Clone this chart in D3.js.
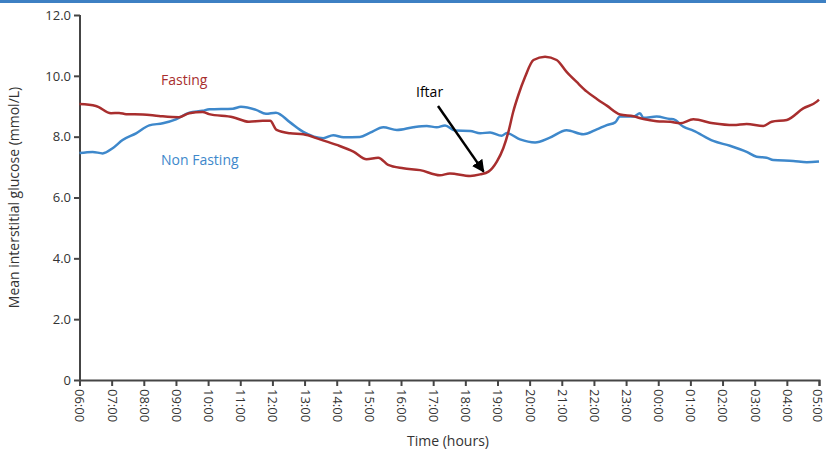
<!DOCTYPE html>
<html>
<head>
<meta charset="utf-8">
<script src="https://cdn.jsdelivr.net/npm/d3@7"></script>
<style>
  body { margin: 0; background: #fff; }
  svg { display: block; font-family: "Open Sans", sans-serif; }
</style>
</head>
<body>
<svg id="chart"></svg>
<script>
// hours after 06:00 and mean glucose (mmol/L)
const fastingHours = [0, 0.51, 0.98, 1.23, 1.45, 1.97, 2.47, 3.09, 3.41, 3.83, 4.03, 4.77, 5.27, 5.70, 5.93,
  6.13, 6.55, 6.96, 7.48, 8.00, 8.52, 8.93, 9.29, 9.60, 10.07, 10.59, 11.21, 11.52, 12.15, 12.46, 12.72,
  12.98, 13.18, 13.34, 13.49, 13.65, 13.86, 14.12, 14.48, 14.84, 15.15, 15.47, 15.78, 16.09, 16.40, 16.81,
  17.23, 17.54, 17.95, 18.37, 18.68, 19.09, 19.71, 20.34, 20.75, 21.27, 21.53, 22.00, 22.51, 22.93, 23];
const fastingGlucose = [9.07, 9.01, 8.77, 8.78, 8.74, 8.73, 8.68, 8.64, 8.77, 8.81, 8.74, 8.64, 8.49, 8.52, 8.52,
  8.22, 8.11, 8.08, 7.91, 7.73, 7.51, 7.26, 7.31, 7.07, 6.96, 6.90, 6.73, 6.79, 6.71, 6.76, 6.85,
  7.18, 7.62, 8.16, 8.82, 9.37, 9.97, 10.52, 10.63, 10.52, 10.13, 9.79, 9.48, 9.24, 9.02, 8.73,
  8.67, 8.58, 8.51, 8.49, 8.44, 8.57, 8.44, 8.38, 8.42, 8.35, 8.49, 8.55, 8.93, 9.15, 9.22];

const nonFastingHours = [0, 0.41, 0.72, 1.03, 1.34, 1.76, 2.17, 2.59, 3.00, 3.42, 3.83, 4.04, 4.77, 5.02, 5.49,
  5.80, 6.11, 6.55, 6.96, 7.58, 7.89, 8.21, 8.72, 9.04, 9.45, 9.87, 10.38, 10.80, 11.11, 11.37, 11.68,
  12.15, 12.46, 12.77, 13.13, 13.29, 13.70, 14.17, 14.63, 15.15, 15.67, 16.09, 16.40, 16.66, 16.81, 17.23,
  17.43, 17.54, 17.95, 18.37, 18.47, 18.78, 19.09, 19.71, 20.23, 20.75, 21.06, 21.37, 21.58, 22.20, 22.62, 23];
const nonFastingGlucose = [7.46, 7.50, 7.45, 7.62, 7.89, 8.11, 8.37, 8.44, 8.57, 8.79, 8.85, 8.90, 8.92, 8.98, 8.88,
  8.75, 8.79, 8.47, 8.16, 7.95, 8.05, 7.98, 7.99, 8.13, 8.31, 8.22, 8.31, 8.35, 8.31, 8.37, 8.20,
  8.19, 8.11, 8.14, 8.03, 8.12, 7.91, 7.81, 7.97, 8.21, 8.08, 8.24, 8.38, 8.47, 8.66, 8.66,
  8.77, 8.62, 8.66, 8.58, 8.57, 8.33, 8.20, 7.86, 7.70, 7.50, 7.34, 7.31, 7.23, 7.20, 7.16, 7.18];

const timeTicks = d3.range(0, 24);          // 06:00 .. 05:00
const glucoseTicks = [0, 2, 4, 6, 8, 10, 12];
const iftarHour = 12.6;

const W = 826, H = 451;
const margin = { top: 15, right: 7, bottom: 71, left: 80 };
const red = "#a82e2e", blue = "#3e88cb", axisColor = "#454545";

const svg = d3.select("#chart").attr("width", W).attr("height", H);

// thin blue band at the very top
svg.append("rect").attr("x", 0).attr("y", 0).attr("width", W).attr("height", 3).attr("fill", "#3d80c3");

const x = d3.scaleLinear().domain([0, 23]).range([margin.left - 0.5, W - margin.right]);
const y = d3.scaleLinear().domain([0, 12]).range([H - margin.bottom, margin.top]);

const g = svg.append("g");

// y axis
const yAxis = g.append("g")
  .attr("transform", `translate(${margin.left},0)`)
  .call(d3.axisLeft(y).tickValues(glucoseTicks).tickSize(6).tickPadding(3)
    .tickFormat(d => d === 0 ? "0" : d3.format(".1f")(d)));
yAxis.select(".domain").attr("d", `M0,${y(12)}V${y(0)}`);

// x axis
const xAxis = g.append("g")
  .attr("transform", `translate(0,${y(0)})`)
  .call(d3.axisBottom(x).tickValues(timeTicks).tickSize(6)
    .tickFormat(h => String((6 + h) % 24).padStart(2, "0") + ":00"));

[yAxis, xAxis].forEach(ax => {
  ax.select(".domain").attr("stroke", axisColor).attr("stroke-width", 2);
  ax.selectAll(".tick line").attr("stroke", axisColor).attr("stroke-width", 2);
  ax.selectAll(".tick text").attr("fill", "#333").style("font-size", "13px")
    .style("font-family", "'Open Sans', sans-serif");
});

xAxis.selectAll(".tick text")
  .attr("transform", "rotate(90)")
  .attr("x", 9).attr("y", 0)
  .attr("dy", (d, i) => i === timeTicks.length - 1 ? "0.5em" : "0.35em")
  .style("text-anchor", "start");

// axis titles
svg.append("text")
  .attr("transform", `translate(19,${(y(0) + y(12)) / 2}) rotate(-90)`)
  .attr("text-anchor", "middle").attr("fill", "#333").style("font-size", "14px")
  .text("Mean interstitial glucose (mmol/L)");
svg.append("text")
  .attr("x", 448).attr("y", 446)
  .attr("text-anchor", "middle").attr("fill", "#333").style("font-size", "14px")
  .text("Time (hours)");

// series
const line = d3.line().x(d => x(d[0])).y(d => y(d[1])).curve(d3.curveMonotoneX);
const series = [
  { hours: nonFastingHours, vals: nonFastingGlucose, color: blue },
  { hours: fastingHours, vals: fastingGlucose, color: red }
];
series.forEach(s => {
  g.append("path")
    .datum(s.hours.map((h, i) => [h, s.vals[i]]))
    .attr("fill", "none")
    .attr("stroke", s.color)
    .attr("stroke-width", 2.5)
    .attr("stroke-linejoin", "round")
    .attr("d", line);
});

// labels
svg.append("text").attr("x", 161).attr("y", 85).attr("fill", red).style("font-size", "14px").text("Fasting");
svg.append("text").attr("x", 161).attr("y", 165).attr("fill", blue).style("font-size", "14px").text("Non Fasting");

// Iftar annotation
svg.append("defs").append("marker")
  .attr("id", "arrow").attr("viewBox", "0 0 10 10").attr("refX", 9).attr("refY", 5)
  .attr("markerWidth", 5).attr("markerHeight", 5).attr("orient", "auto")
  .append("path").attr("d", "M0,0L10,5L0,10Z").attr("fill", "#000");
svg.append("line")
  .attr("x1", 438).attr("y1", 106)
  .attr("x2", x(iftarHour) - 1).attr("y2", y(6.72) - 4)
  .attr("stroke", "#000").attr("stroke-width", 2.5)
  .attr("marker-end", "url(#arrow)");
svg.append("text").attr("x", 416).attr("y", 97).attr("fill", "#000").style("font-size", "14px").text("Iftar");
</script>
</body>
</html>
